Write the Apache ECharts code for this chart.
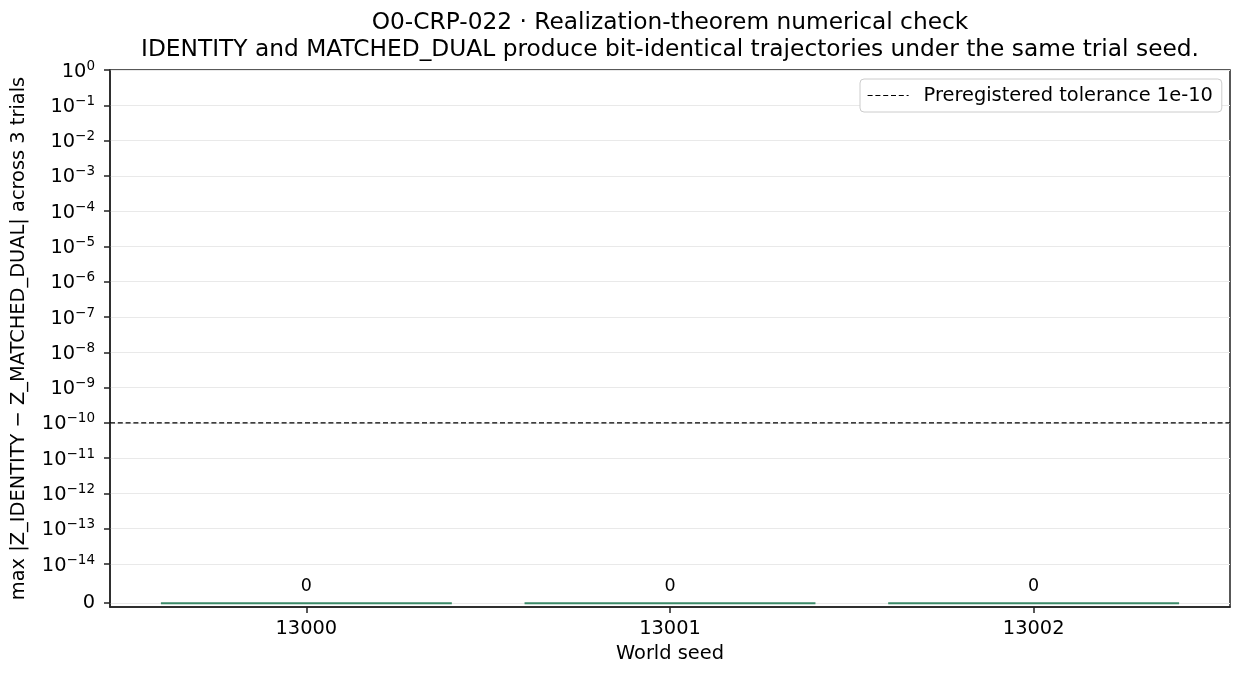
<!DOCTYPE html>
<html lang="en">
<head>
    <meta charset="utf-8" />
    <title>O0-CRP-022 realization check</title>
    <script src="https://cdn.jsdelivr.net/npm/echarts@6/dist/echarts.min.js"></script>
    <style>
        html, body { margin: 0; padding: 0; background: #fff; }
    </style>
</head>
<body>
    <div id="box" style="width:1245px;height:680px"></div>
    <script>
        // world seeds and max |Z_IDENTITY - Z_MATCHED_DUAL| per seed
        var seeds = ['13000', '13001', '13002'];
        var maxDiff = [0, 0, 0];
        var tolerance = 1e-10;
        // y tick values (0 then decades 1e-14 .. 1e0)
        var yTickValues = [0, 1e-14, 1e-13, 1e-12, 1e-11, 1e-10, 1e-9, 1e-8, 1e-7, 1e-6, 1e-5, 1e-4, 1e-3, 1e-2, 1e-1, 1e0];

        // symlog transform, linthresh 1e-14, linscale 1 (like matplotlib)
        var linthresh = 1e-14;
        var linscale = 1 / (1 - 1 / 10);
        function symlog(v) {
            if (v <= linthresh) return v / linthresh * linscale;
            return linscale + Math.log10(v / linthresh);
        }
        var yTicks = yTickValues.map(symlog);

        function yLabel(val) {
            for (var i = 0; i < yTicks.length; i++) {
                if (Math.abs(yTicks[i] - val) < 1e-6) {
                    var v = yTickValues[i];
                    if (v === 0) return '{b|0}';
                    var e = Math.round(Math.log10(v));
                    return '{b|10}{s|' + (e < 0 ? '\u2212' + (-e) : e) + '}';
                }
            }
            return '';
        }

        var font = 'DejaVu Sans';
        var fs = 19.4;
        var barColor = '#3b8a68';
        var dash = [5, 2.8];
        var myChart = echarts.init(document.getElementById('box'));
        var option = {
            animation: false,
            backgroundColor: '#fff',
            textStyle: { fontFamily: font },
            title: {
                text: 'O0-CRP-022 \u00b7 Realization-theorem numerical check\nIDENTITY and MATCHED_DUAL produce bit-identical trajectories under the same trial seed.',
                left: 670,
                textAlign: 'center',
                top: 9,
                padding: 0,
                textStyle: { fontFamily: font, fontSize: 23.3, fontWeight: 'normal', color: '#000', lineHeight: 27 }
            },
            legend: {
                left: 860,
                top: 79,
                padding: [7, 9, 7, 7],
                itemWidth: 41,
                itemHeight: 14,
                borderColor: '#cccccc',
                borderWidth: 1,
                borderRadius: 4,
                backgroundColor: '#fff',
                itemStyle: { color: 'rgba(0,0,0,0)', borderWidth: 0, opacity: 0 },
                lineStyle: { type: dash, width: 1.2, color: '#000' },
                textStyle: { fontFamily: font, fontSize: fs, color: '#000', padding: [0, 0, 0, 10] },
                data: ['Preregistered tolerance 1e-10']
            },
            grid: {
                left: 110, right: 15, top: 70, bottom: 73,
                show: true, borderColor: '#222', borderWidth: 1.5, backgroundColor: 'transparent'
            },
            xAxis: {
                type: 'value',
                min: -0.54,
                max: 2.54,
                name: 'World seed',
                nameLocation: 'middle',
                nameGap: 37,
                nameTextStyle: { fontFamily: font, fontSize: fs, color: '#000' },
                axisLine: { show: true, onZero: false, lineStyle: { color: '#222', width: 1.5 } },
                axisTick: { show: true, customValues: [0, 1, 2], length: 6, lineStyle: { color: '#222', width: 1.5 } },
                axisLabel: {
                    customValues: [0, 1, 2],
                    margin: 12,
                    fontFamily: font, fontSize: fs, color: '#000',
                    formatter: function (v) { return seeds[Math.round(v)]; }
                },
                splitLine: { show: false }
            },
            yAxis: {
                type: 'value',
                min: -0.107,
                max: symlog(1e0),
                name: 'max |Z_IDENTITY \u2212 Z_MATCHED_DUAL| across 3 trials',
                nameLocation: 'middle',
                nameGap: 82,
                nameTextStyle: { fontFamily: font, fontSize: fs, color: '#000' },
                axisLine: { show: true, onZero: false, lineStyle: { color: '#222', width: 1.5 } },
                axisTick: { show: true, customValues: yTicks, length: 6, lineStyle: { color: '#222', width: 1.5 } },
                axisLabel: {
                    customValues: yTicks,
                    margin: 15,
                    formatter: yLabel,
                    rich: {
                        b: { fontFamily: font, fontSize: fs, color: '#000', verticalAlign: 'bottom' },
                        s: { fontFamily: font, fontSize: 13.5, color: '#000', verticalAlign: 'bottom', padding: [0, 0, 8, 0] }
                    }
                },
                splitLine: { show: true, lineStyle: { color: '#e9e9e9', width: 1 } }
            },
            series: [
                {
                    type: 'custom',
                    name: 'max diff',
                    data: maxDiff.map(function (v, i) { return [i, symlog(v)]; }),
                    renderItem: function (params, api) {
                        var x = api.value(0), y = api.value(1);
                        var p0 = api.coord([x - 0.4, y]);
                        var p1 = api.coord([x + 0.4, y]);
                        var pc = api.coord([x, y]);
                        return {
                            type: 'group',
                            children: [
                                {
                                    type: 'line',
                                    shape: { x1: p0[0], y1: p0[1], x2: p1[0], y2: p1[1] },
                                    style: { stroke: barColor, lineWidth: 2 }
                                },
                                {
                                    type: 'text',
                                    x: pc[0],
                                    y: pc[1] - 8,
                                    style: {
                                        text: String(maxDiff[params.dataIndex]),
                                        fontFamily: font, fontSize: 17.5, fill: '#000',
                                        align: 'center', verticalAlign: 'bottom'
                                    }
                                }
                            ]
                        };
                    },
                    z: 3
                },
                {
                    type: 'line',
                    name: 'Preregistered tolerance 1e-10',
                    data: [[-0.54, symlog(tolerance)], [2.54, symlog(tolerance)]],
                    showSymbol: false,
                    symbol: 'none',
                    lineStyle: { color: '#000', width: 1.2, type: dash },
                    itemStyle: { color: '#000' },
                    z: 4
                }
            ]
        };
        myChart.setOption(option);
    </script>
</body>
</html>
